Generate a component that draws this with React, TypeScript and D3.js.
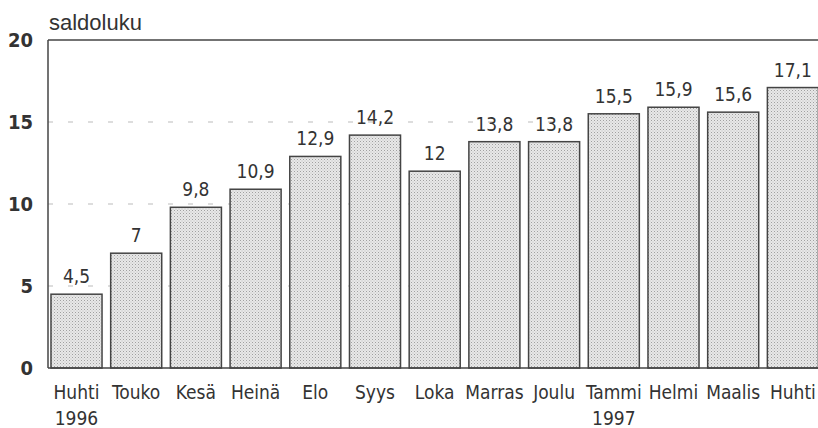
import React from "react";
import * as d3 from "d3";

// kuukaudet huhti 1996 - huhti 1997
const months = ["Huhti", "Touko", "Kesä", "Heinä", "Elo", "Syys", "Loka", "Marras", "Joulu", "Tammi", "Helmi", "Maalis", "Huhti"];
const values = [4.5, 7, 9.8, 10.9, 12.9, 14.2, 12, 13.8, 13.8, 15.5, 15.9, 15.6, 17.1];
const years = [{ index: 0, label: "1996" }, { index: 9, label: "1997" }];
const yTicks = [0, 5, 10, 15, 20];

const width = 818;
const height = 428;
const left = 48;
const top = 40;
const bottom = 368;

const condensed = "'Liberation Sans Narrow', 'DejaVu Sans Condensed', 'Arial Narrow', sans-serif";
const ink = "#333";

export default function App() {
  const x = d3
    .scaleBand<number>()
    .domain(d3.range(months.length))
    .range([left, 821.4])
    .paddingInner(0.145)
    .paddingOuter(0.05);

  const y = d3.scaleLinear().domain([0, 20]).range([bottom, top]);

  const fmt = (v: number) => String(v).replace(".", ",");

  return (
    <svg
      width={width}
      height={height}
      style={{ position: "absolute", left: 0, top: 0, background: "#fff" }}
    >
      <defs>
        <pattern id="dots" width="3" height="3" patternUnits="userSpaceOnUse">
          <rect width="3" height="3" fill="#e8e8e8" />
          <rect x="0" y="0" width="1" height="1" fill="#a0a0a0" />
          <rect x="1.5" y="1.5" width="1" height="1" fill="#bcbcbc" />
        </pattern>
      </defs>

      <text x={49} y={30} fontFamily="'Liberation Sans', Arial, sans-serif" fontSize={22} fill={ink}>
        saldoluku
      </text>

      {/* apuviivat */}
      {yTicks.filter(t => t > 0 && t < 20).map(t => (
        <line
          key={t}
          x1={left}
          x2={width}
          y1={y(t)}
          y2={y(t)}
          stroke="#bbb"
          strokeWidth={1}
          strokeDasharray="5,15"
        />
      ))}

      {/* pylväät */}
      {values.map((v, i) => (
        <g key={i}>
          <rect
            x={x(i)}
            y={y(v)}
            width={x.bandwidth()}
            height={bottom - y(v)}
            fill="url(#dots)"
            stroke="#444"
            strokeWidth={1.5}
          />
          <text
            x={(x(i) ?? 0) + x.bandwidth() / 2}
            y={y(v) - 11}
            textAnchor="middle"
            fontFamily={condensed}
            fontSize={19}
            fill={ink}
          >
            {fmt(v)}
          </text>
        </g>
      ))}

      {/* akselit */}
      <line x1={left} x2={width} y1={top} y2={top} stroke="#444" strokeWidth={1.5} />
      <line x1={left} x2={width} y1={bottom} y2={bottom} stroke="#444" strokeWidth={1.5} />
      <line x1={left} x2={left} y1={top} y2={bottom} stroke="#444" strokeWidth={1.5} />

      {yTicks.map(t => (
        <text
          key={t}
          x={33}
          y={y(t) + 7}
          textAnchor="end"
          fontFamily={condensed}
          fontWeight="bold"
          fontSize={20}
          fill={ink}
        >
          {t}
        </text>
      ))}

      {months.map((m, i) => (
        <text
          key={i}
          x={(x(i) ?? 0) + x.bandwidth() / 2}
          y={399}
          textAnchor="middle"
          fontFamily={condensed}
          fontSize={19}
          fill={ink}
        >
          {m}
        </text>
      ))}

      {years.map(yr => (
        <text
          key={yr.label}
          x={(x(yr.index) ?? 0) + x.bandwidth() / 2}
          y={425}
          textAnchor="middle"
          fontFamily={condensed}
          fontSize={19}
          fill={ink}
        >
          {yr.label}
        </text>
      ))}
    </svg>
  );
}
